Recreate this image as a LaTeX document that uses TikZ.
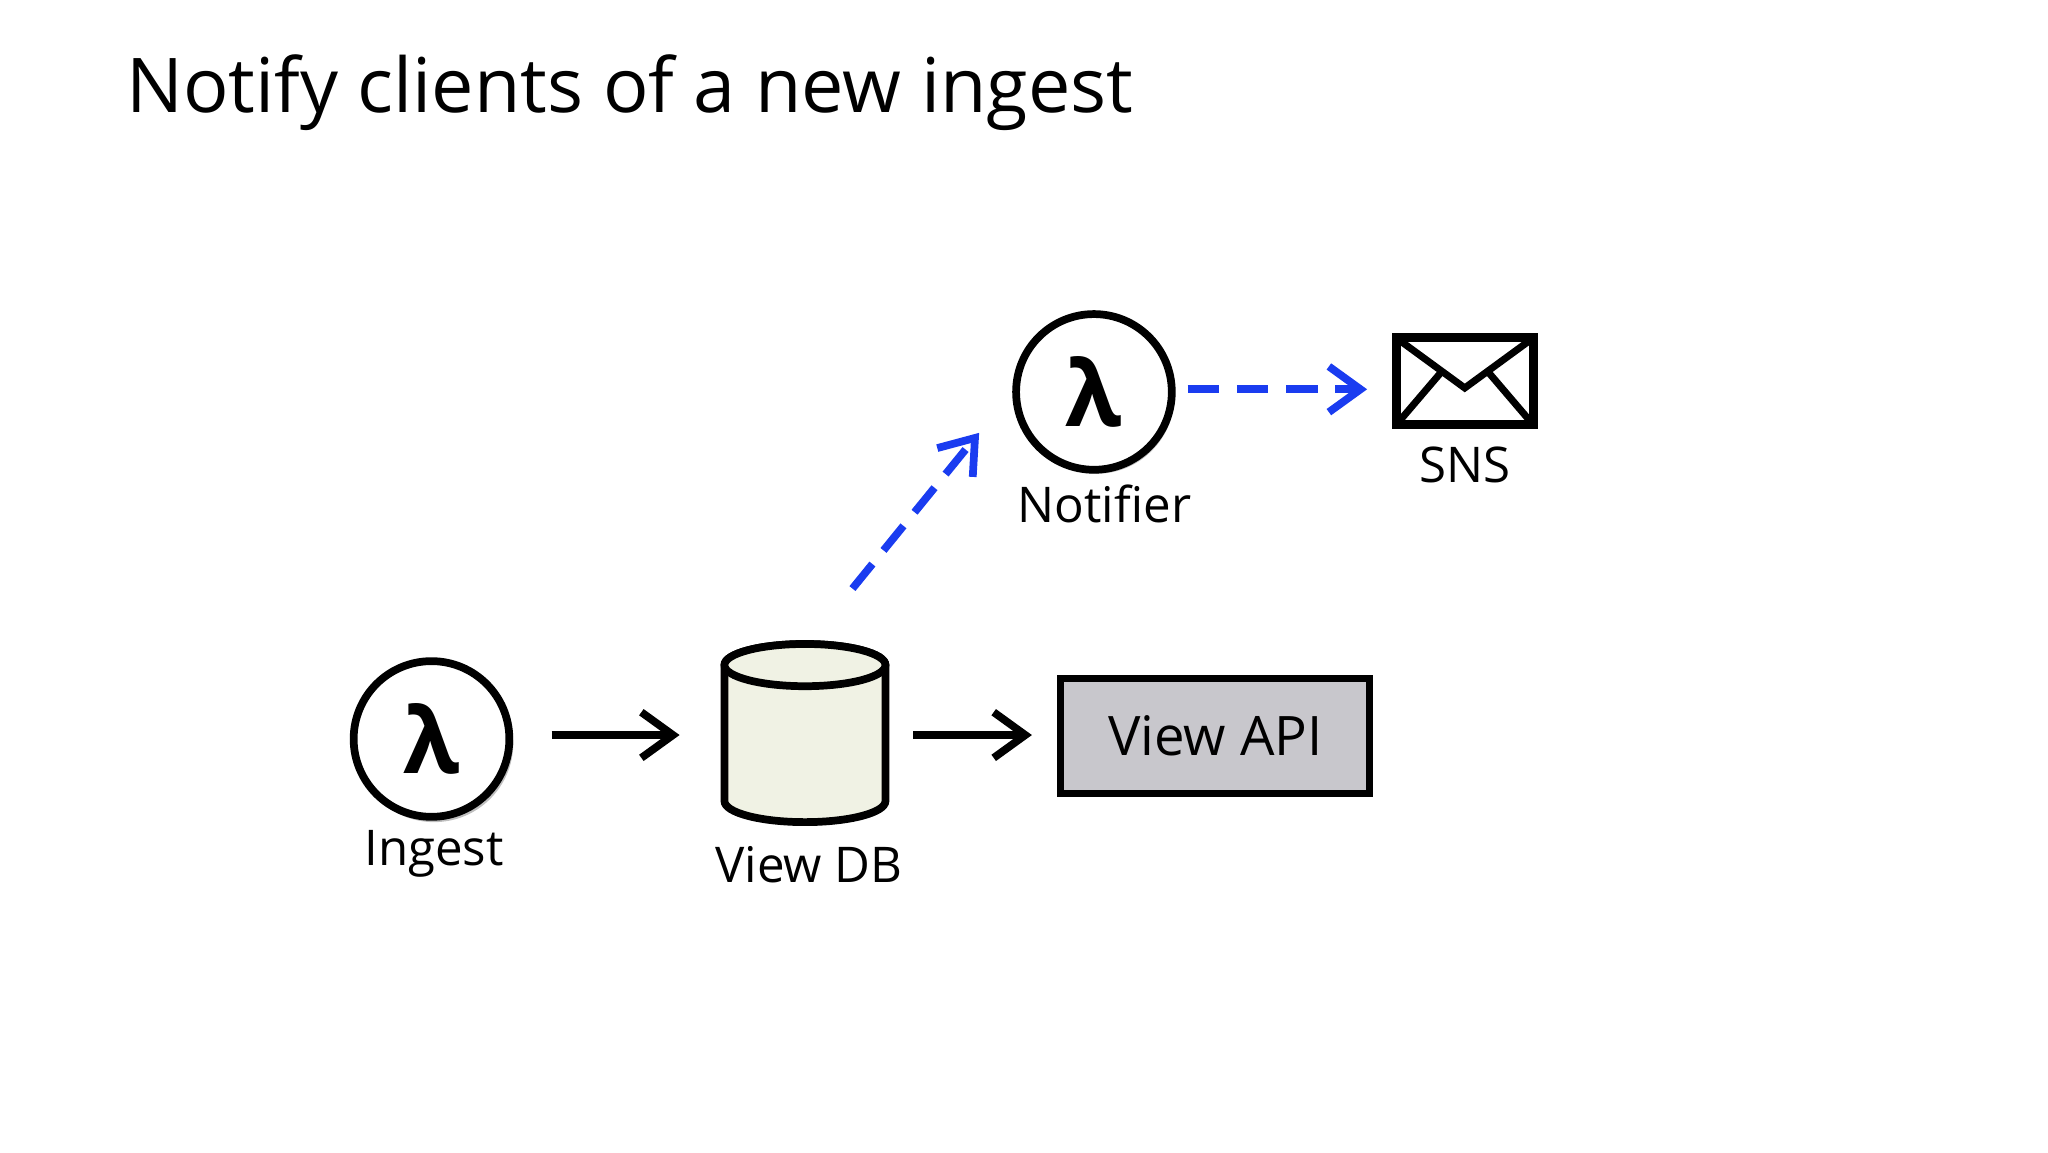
\documentclass[tikz,border=0pt]{standalone}
\usepackage{fontspec}
\setmainfont{Open Sans}
\usetikzlibrary{arrows.meta}
\definecolor{dbfill}{HTML}{F0F2E4}
\definecolor{apifill}{HTML}{C8C7CC}
\definecolor{dblue}{HTML}{1A3CF0}
\begin{document}
\begin{tikzpicture}[x=0.0132cm,y=-0.0132cm,
  lam/.style={circle,draw,line width=2.2pt,minimum size=118*0.0132cm,inner sep=0pt,fill=white,font=\fontsize{26}{26}\selectfont\bfseries},
  lbl/.style={font=\fontsize{14}{16}\selectfont},
  arr/.style={line width=2.2pt,-{Straight Barb[length=9pt,width=13pt]}},
  darr/.style={arr,dblue,dash pattern=on 9pt off 5pt}]
\useasboundingbox (0,0) rectangle (1552,873);
\node[anchor=base west,font=\fontsize{21.5}{26}\selectfont,inner sep=0pt] (title) at (95,85) {Notify clients of a new ingest};
\fill[black!25] (329,563) circle (60);
\node[lam] (ing) at (327,560) {λ};
\node[lbl] (ingl) at (329,647) {Ingest};
% cylinder
\draw[line width=2.2pt,fill=dbfill] (549,504) -- (549,607) arc[start angle=180,end angle=0,x radius=61,y radius=16] -- (671,504) arc[start angle=0,end angle=-180,x radius=61,y radius=16] -- cycle;
\draw[line width=2.2pt,fill=dbfill] (610,504) ellipse[x radius=61,y radius=16];
\coordinate (db) at (610,557);
\node[lbl] (dbl) at (613,655) {View DB};
\node[draw,line width=2pt,fill=apifill,minimum width=234*0.0132cm,minimum height=87*0.0132cm,font=\fontsize{15.5}{18}\selectfont] (api) at (921,557.5) {View API};
\fill[black!25] (831,300) circle (59);
\node[lam] (not) at (829,297) {λ};
\node[lbl] (notl) at (837,382) {Notifier};
\draw[line width=2.6pt] (1058,256) rectangle (1162,322);
\draw[line width=2pt] (1058,256) -- (1110,294) -- (1162,256);
\draw[line width=2pt] (1058,322) -- (1093,281);
\draw[line width=2pt] (1162,322) -- (1127,281);
\coordinate (sns) at (1058,295);
\node[lbl] (snsl) at (1110,352) {SNS};
\coordinate (a1) at (418,557); \coordinate (a2) at (515,557);
\coordinate (b1) at (692,557); \coordinate (b2) at (782,557);
\coordinate (c1) at (646,446); \coordinate (c2) at (742,328);
\coordinate (d1) at (900,295); \coordinate (d2) at (1036,295);
\draw[arr] (a1) -- (a2);
\draw[arr] (b1) -- (b2);
\draw[darr] (c1) -- (c2);
\draw[darr] (d1) -- (d2);
\end{tikzpicture}
\end{document}
